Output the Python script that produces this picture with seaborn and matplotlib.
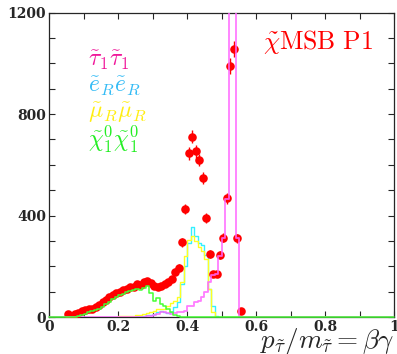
import numpy as np
import pandas as pd
import matplotlib
matplotlib.use("Agg")
import matplotlib.pyplot as plt
import seaborn as sns

# bins of width 0.01 between 0 and 1
bin_edges = np.round(np.arange(0, 1.0001, 0.01), 2)

# simulated contributions (first value belongs to the bin starting at *_start)
green_start = 0.08
green_vals = [5, 8, 12, 18, 22, 26, 32, 40, 50, 60, 70, 78, 85, 92, 98, 102,
              108, 112, 108, 115, 122, 95, 65, 75, 52, 45, 30, 18, 6, 2]

cyan_start = 0.25
cyan_vals = [2, 3, 4, 6, 8, 12, 18, 22, 20, 15, 20, 40, 60, 130, 200, 290,
             355, 320, 290, 285, 245, 110, 45, 5]

yellow_start = 0.20
yellow_vals = [2, 2, 3, 4, 5, 6, 8, 10, 14, 18, 25, 30, 32, 30, 45, 55, 65,
               80, 140, 240, 305, 320, 300, 277, 262, 230, 110, 20]

magenta_start = 0.28
magenta_vals = [3, 5, 8, 12, 18, 20, 15, 12, 15, 18, 20, 22, 45, 45, 60, 65,
                80, 100, 140, 165, 170, 240, 310, 465, 1500, 1500, 310]

# "data" points, bin centres 0.055 ... 0.555
data_start = 0.05
data_vals = [10, 5, 12, 16, 22, 27, 30, 32, 38, 48, 58, 68, 77, 85, 93, 98,
             105, 110, 117, 120, 130, 128, 138, 143, 135, 123, 117, 121, 130,
             138, 149, 178, 195, 295, 425, 645, 711, 653, 619, 549, 390, 249,
             170, 170, 245, 313, 468, 990, 1057, 311, 22]

labels = [r"$\tilde{\tau}_1\tilde{\tau}_1$", r"$\tilde{e}_R\tilde{e}_R$",
          r"$\tilde{\mu}_R\tilde{\mu}_R$", r"$\tilde{\chi}^0_1\tilde{\chi}^0_1$"]
label_colors = ["#f0189a", "#33bbf5", "#ffee11", "#22ee22"]


def full_hist(start, vals):
    h = np.zeros(len(bin_edges) - 1)
    i0 = int(round(start / 0.01))
    h[i0:i0 + len(vals)] = vals
    return h


centres = bin_edges[:-1] + 0.005
hists = pd.DataFrame({
    "x": centres,
    "magenta": full_hist(magenta_start, magenta_vals),
    "cyan": full_hist(cyan_start, cyan_vals),
    "yellow": full_hist(yellow_start, yellow_vals),
    "green": full_hist(green_start, green_vals),
})

i0 = int(round(data_start / 0.01))
pts = pd.DataFrame({"x": centres[i0:i0 + len(data_vals)], "n": data_vals})

sns.set_style("ticks")
plt.rcParams["font.family"] = ["DejaVu Serif"]
plt.rcParams["mathtext.fontset"] = "cm"

fig = plt.figure(figsize=(3.97, 3.54), dpi=100)
ax = fig.add_axes([0.1234, 0.1045, 0.870, 0.8596])


def step_hist(col, color, lw, z, alpha=1.0, clip=True):
    sns.histplot(data=hists, x="x", weights=col, binwidth=0.01, binrange=(0, 1),
                 element="step", fill=False, color=color, linewidth=lw,
                 alpha=alpha, ax=ax, zorder=z, clip_on=clip)


step_hist("cyan", "#33f0ff", 1.0, 2)
step_hist("yellow", "#ffff22", 1.0, 2)

ax.errorbar(pts["x"], pts["n"], yerr=np.sqrt(pts["n"]), fmt="none",
            ecolor="#ff0000", elinewidth=1.0, zorder=3)
sns.scatterplot(data=pts, x="x", y="n", color="#ff0000", s=38, linewidth=0,
                ax=ax, zorder=4)

step_hist("magenta", "#ff66ff", 1.3, 5, alpha=0.85)
step_hist("green", "#44ff33", 1.1, 6, clip=False)

ax.set_xlim(0, 1)
ax.set_ylim(0, 1200)
ax.set_xticks([0, 0.2, 0.4, 0.6, 0.8, 1.0])
ax.set_xticklabels(["0", "0.2", "0.4", "0.6", "0.8", "1"])
ax.set_xticks(np.arange(0.1, 1.0, 0.2), minor=True)
ax.set_yticks([0, 400, 800, 1200])
ax.set_yticks([y for y in range(100, 1200, 100) if y % 400], minor=True)
ax.tick_params(which="both", direction="in", top=True, right=True,
               labelsize=10, length=4, width=0.8, pad=2)
for lab in ax.get_xticklabels() + ax.get_yticklabels():
    lab.set_fontweight("bold")
for s in ax.spines.values():
    s.set_linewidth(0.9)

ax.set_ylabel("")
ax.set_xlabel("")
fig.text(0.993, 0.016, r"$p_{\tilde{\tau}}/m_{\tilde{\tau}} = \beta\gamma$",
         ha="right", va="baseline", fontsize=19.5)

ax.text(0.62, 0.905, r"$\tilde{\chi}\mathrm{MSB\ P1}$", transform=ax.transAxes,
        color="#ff0000", fontsize=18.5, ha="left", va="center")

for k, (lab, c) in enumerate(zip(labels, label_colors)):
    ax.text(0.112, 0.843 - 0.086 * k, lab, transform=ax.transAxes, color=c,
            fontsize=17, ha="left", va="center")

fig.savefig("out.png", dpi=100)
